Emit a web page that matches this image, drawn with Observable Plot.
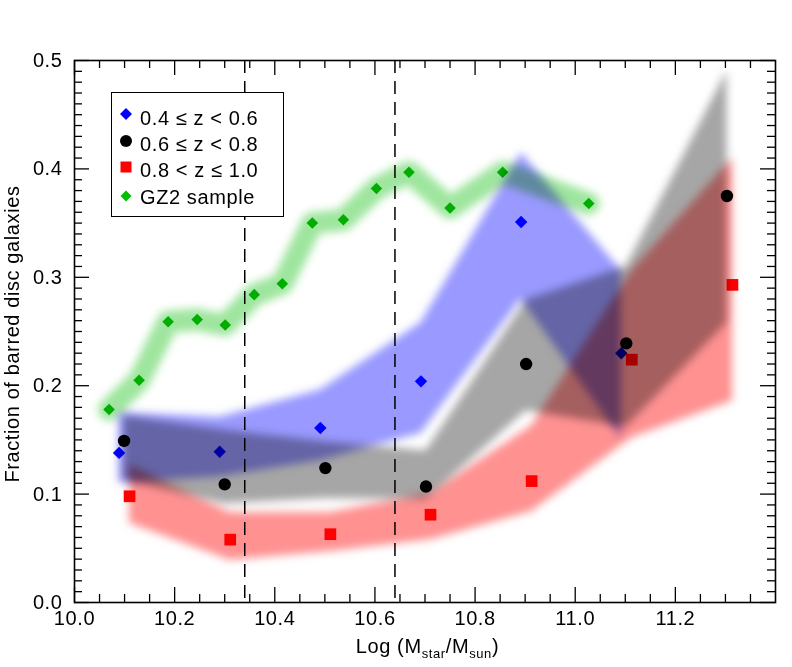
<!DOCTYPE html>
<html>
<head>
<meta charset="utf-8">
<script src="https://cdn.jsdelivr.net/npm/d3@7"></script>
<script src="https://cdn.jsdelivr.net/npm/@observablehq/plot@0.6"></script>
<style>
  html, body { margin: 0; padding: 0; background: #fff; }
  #wrap { position: relative; width: 792px; height: 667px; font-family: "Liberation Sans", Arial, sans-serif; }
  #legend { position: absolute; left: 111px; top: 92px; width: 173px; height: 125px; box-sizing: border-box;
            border: 1.4px solid #000; background: #fff; }
  #legend .row { position: absolute; left: 0; height: 0; }
  #legend svg { position: absolute; left: 8px; }
  #legend span { position: absolute; left: 28px; font-size: 20px; letter-spacing: 0.6px; line-height: 20px; top: -10px; white-space: nowrap; color: #000; }
</style>
</head>
<body>
<div id="wrap"></div>
<script>
// ---- data ----
const seriesLabels = ["0.4 \u2264 z < 0.6", "0.6 \u2264 z < 0.8", "0.8 < z \u2264 1.0", "GZ2 sample"];

// 0.4 <= z < 0.6 (blue diamonds)
const blueX = [10.089, 10.290, 10.491, 10.692, 10.892, 11.092];
const blueY = [0.138, 0.139, 0.161, 0.204, 0.351, 0.230];
const blueLo = [0.110, 0.116, 0.131, 0.156, 0.280, 0.151];
const blueHi = [0.175, 0.171, 0.196, 0.258, 0.415, 0.306];

// 0.6 <= z < 0.8 (black circles)
const blackX = [10.099, 10.300, 10.501, 10.702, 10.902, 11.102, 11.303];
const blackY = [0.149, 0.109, 0.124, 0.107, 0.220, 0.239, 0.375];
const grayLo = [0.113, 0.091, 0.096, 0.095, 0.177, 0.162, 0.258];
const grayHi = [0.172, 0.159, 0.148, 0.140, 0.279, 0.310, 0.490];

// 0.8 < z <= 1.0 (red squares)
const redX = [10.110, 10.311, 10.511, 10.711, 10.913, 11.113, 11.314];
const redY = [0.098, 0.058, 0.063, 0.081, 0.112, 0.224, 0.293];
const redLo = [0.073, 0.039, 0.047, 0.058, 0.084, 0.152, 0.186];
const redHi = [0.127, 0.083, 0.083, 0.101, 0.163, 0.306, 0.410];

// GZ2 sample (green diamonds)
const gzX = [10.069, 10.129, 10.187, 10.245, 10.301, 10.359, 10.415, 10.475, 10.537, 10.603, 10.668, 10.750, 10.855, 11.027];
const gzY = [0.178, 0.205, 0.259, 0.261, 0.256, 0.284, 0.294, 0.350, 0.353, 0.382, 0.397, 0.364, 0.397, 0.368];

// vertical reference lines
const cutX = [10.34, 10.64];

// axis ticks
const xMajor = [10.0, 10.2, 10.4, 10.6, 10.8, 11.0, 11.2];
const yMajor = [0.0, 0.1, 0.2, 0.3, 0.4, 0.5];
const xMinor = d3.range(1, 28).map(i => 10 + i * 0.05).filter(v => Math.abs(v * 5 - Math.round(v * 5)) > 1e-6);
const yMinor = d3.range(1, 50).map(i => i * 0.01).filter(v => Math.abs(v * 10 - Math.round(v * 10)) > 1e-6);

// ---- build tables ----
const pts = (xs, ys) => xs.map((x, i) => ({x, y: ys[i]}));
const band = (xs, lo, hi) => xs.map((x, i) => ({x, lo: lo[i], hi: hi[i]}));

const W = 792, H = 667, ML = 74, MR = 17, MT = 60, MB = 65;
const IW = W - ML - MR, IH = H - MT - MB;
const font = '"Liberation Sans", Arial, sans-serif';

const tickStyle = {stroke: "#000", strokeWidth: 1.3};

const plot = Plot.plot({
  width: W, height: H,
  marginLeft: ML, marginRight: MR, marginTop: MT, marginBottom: MB,
  style: `font-family: ${font}; font-size: 20px; letter-spacing: 0.6px; background: white; color: black;`,
  x: {domain: [10, 11.4], ticks: xMajor, tickFormat: d3.format(".1f"), tickSize: 0, tickPadding: 8, label: null},
  y: {domain: [0, 0.5], ticks: yMajor, tickFormat: d3.format(".1f"), tickSize: 0, tickPadding: 12, label: null},
  marks: [
    Plot.ruleX(cutX, {x: d => d, stroke: "#000", strokeWidth: 1.5, strokeDasharray: "13,8"}),
    Plot.dot(pts(gzX, gzY), {x: "x", y: "y", symbol: "diamond2", r: 5.2, fill: "#00c000", stroke: null}),
    Plot.dot(pts(blueX, blueY), {x: "x", y: "y", symbol: "diamond2", r: 5.6, fill: "#0000ff", stroke: null}),
    Plot.dot(pts(blackX, blackY), {x: "x", y: "y", symbol: "circle", r: 6.2, fill: "#000", stroke: null}),
    Plot.dot(pts(redX, redY), {x: "x", y: "y", symbol: "square", r: 6.6, fill: "#ff0000", stroke: null}),
    // shaded bands
    Plot.line(pts(gzX, gzY), {x: "x", y: "y", stroke: "#9ee59e", strokeWidth: 22, strokeLinejoin: "round", strokeLinecap: "round"}),
    Plot.areaY(band(blueX, blueLo, blueHi), {x: "x", y1: "lo", y2: "hi", fill: "#9999ff"}),
    Plot.areaY(band(blackX, grayLo, grayHi), {x: "x", y1: "lo", y2: "hi", fill: "#a6a6a6"}),
    Plot.areaY(band(redX, redLo, redHi), {x: "x", y1: "lo", y2: "hi", fill: "#ff9191"}),
    // ticks on all four sides
    Plot.ruleX(xMajor, {x: d => d, insetTop: IH - 15, ...tickStyle}),
    Plot.ruleX(xMinor, {x: d => d, insetTop: IH - 8, ...tickStyle}),
    Plot.ruleX(xMajor, {x: d => d, insetBottom: IH - 15, ...tickStyle}),
    Plot.ruleX(xMinor, {x: d => d, insetBottom: IH - 8, ...tickStyle}),
    Plot.ruleY(yMajor, {y: d => d, insetRight: IW - 15, ...tickStyle}),
    Plot.ruleY(yMinor, {y: d => d, insetRight: IW - 8, ...tickStyle}),
    Plot.ruleY(yMajor, {y: d => d, insetLeft: IW - 15, ...tickStyle}),
    Plot.ruleY(yMinor, {y: d => d, insetLeft: IW - 8, ...tickStyle}),
    Plot.frame({stroke: "#000", strokeWidth: 1.6})
  ]
});

// soft, blended bands
const svg = d3.select(plot);
const defs = svg.insert("defs", ":first-child");
defs.append("filter").attr("id", "soft").attr("x", "-15%").attr("y", "-15%").attr("width", "130%").attr("height", "130%")
  .append("feGaussianBlur").attr("stdDeviation", 4.2);
svg.selectAll('g[aria-label="area"], g[aria-label="line"]')
  .attr("filter", "url(#soft)")
  .style("mix-blend-mode", "multiply");

// axis titles
svg.append("text")
  .attr("transform", `translate(19, ${MT + IH / 2 + 3}) rotate(-90)`)
  .attr("text-anchor", "middle")
  .attr("fill", "#000")
  .style("font-size", "20px")
  .text("Fraction of barred disc galaxies");

const xt = svg.append("text")
  .attr("x", ML + IW / 2 + 3).attr("y", 653)
  .attr("text-anchor", "middle").attr("fill", "#000").style("font-size", "20px");
xt.append("tspan").text("Log (M");
xt.append("tspan").attr("dy", 5).style("font-size", "13px").text("star");
xt.append("tspan").attr("dy", -5).text("/M");
xt.append("tspan").attr("dy", 5).style("font-size", "13px").text("sun");
xt.append("tspan").attr("dy", -5).text(")");

const wrap = document.getElementById("wrap");
wrap.appendChild(plot);

// legend
const legend = document.createElement("div");
legend.id = "legend";
const rowTop = [25, 51, 77, 104];
const symTop = [21, 48, 74, 103];
const symbols = [
  '<path d="M6 0 L12 6 L6 12 L0 6 Z" fill="#0000ff"/>',
  '<circle cx="6" cy="6" r="6" fill="#000"/>',
  '<rect x="0.5" y="0.5" width="11" height="11" fill="#ff0000"/>',
  '<path d="M6 0.5 L11.5 6 L6 11.5 L0.5 6 Z" fill="#00c000"/>'
];
seriesLabels.forEach((lab, i) => {
  const row = document.createElement("div");
  row.className = "row";
  row.style.top = rowTop[i] + "px";
  row.innerHTML = `<svg width="12" height="12" style="top:${symTop[i] - rowTop[i] - 6}px">${symbols[i]}</svg><span>${lab}</span>`;
  legend.appendChild(row);
});
wrap.appendChild(legend);
</script>
</body>
</html>
